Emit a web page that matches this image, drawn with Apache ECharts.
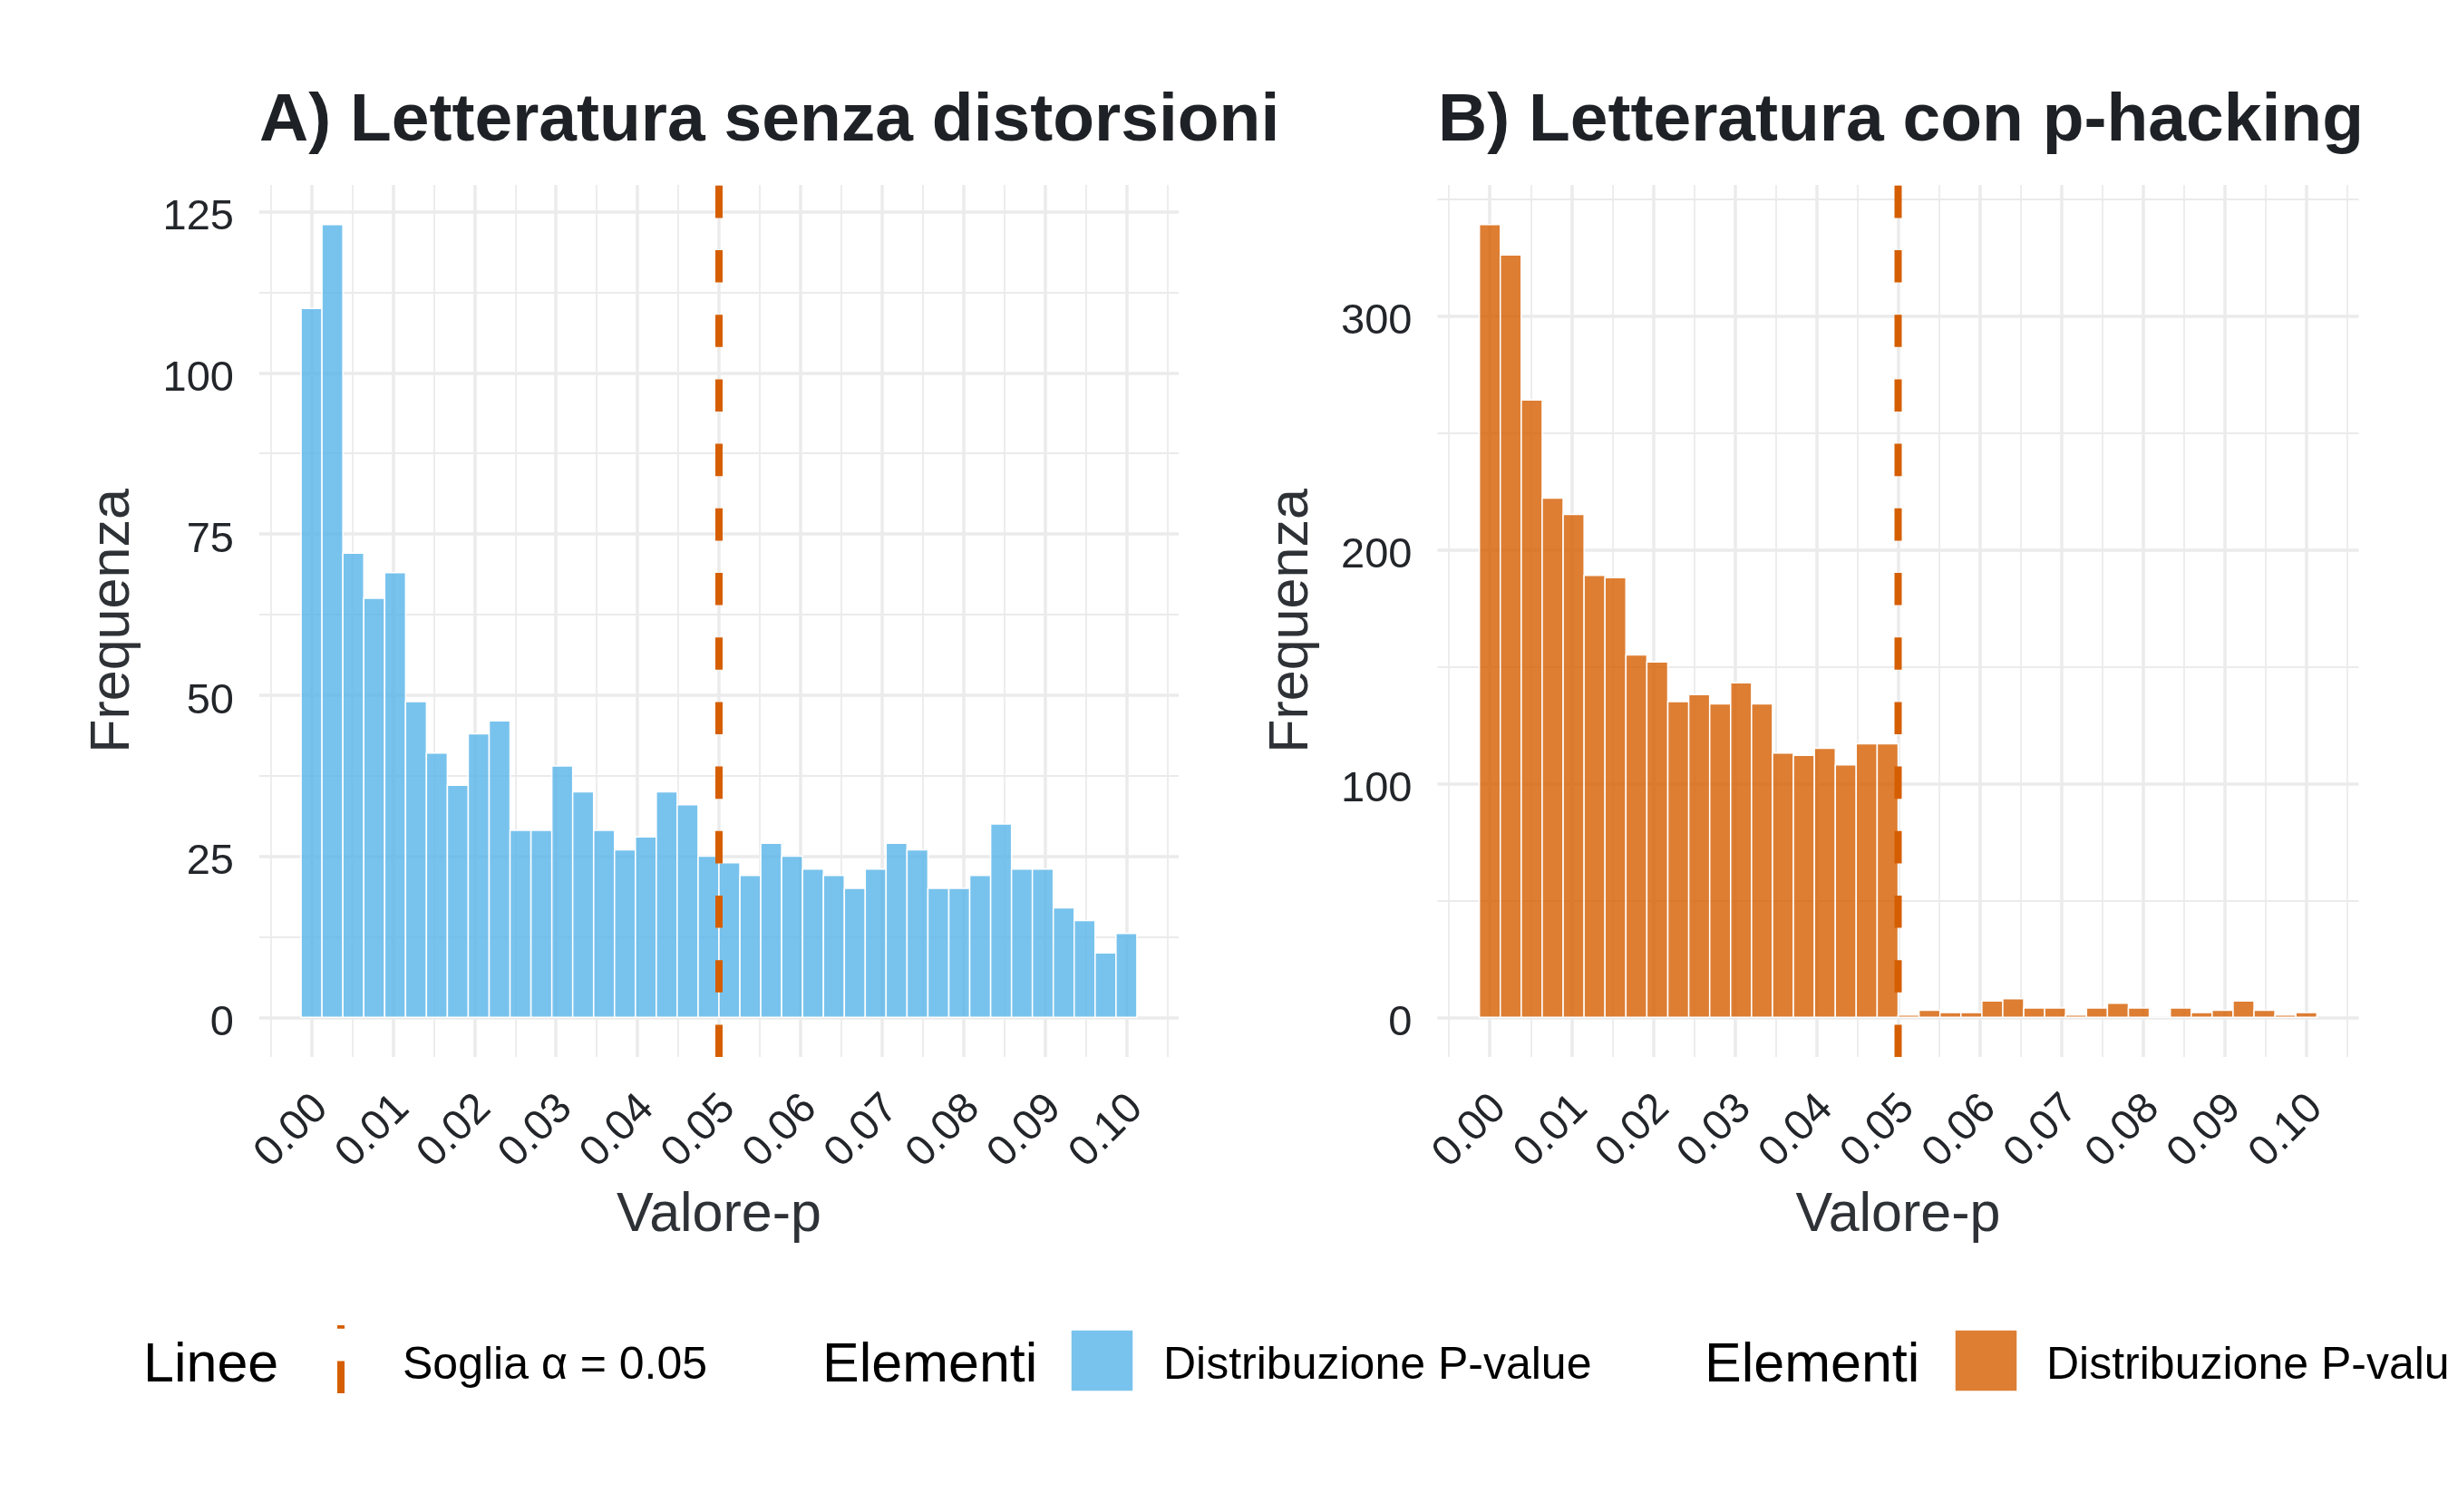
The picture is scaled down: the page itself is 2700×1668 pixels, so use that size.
<!DOCTYPE html>
<html><head><meta charset="utf-8">
<script src="https://cdn.jsdelivr.net/npm/echarts@6/dist/echarts.min.js"></script>
<style>html,body{margin:0;padding:0;background:#fff}#c{width:2700px;height:1668px}</style>
</head><body><div id="c"></div>
<script>
// ---- data ----
const binCenters = [0.00000,0.00256,0.00513,0.00769,0.01026,0.01282,0.01538,0.01795,0.02051,0.02308,
  0.02564,0.02821,0.03077,0.03333,0.03590,0.03846,0.04103,0.04359,0.04615,0.04872,
  0.05128,0.05385,0.05641,0.05897,0.06154,0.06410,0.06667,0.06923,0.07179,0.07436,
  0.07692,0.07949,0.08205,0.08462,0.08718,0.08974,0.09231,0.09487,0.09744,0.10000];
const binWidth = 0.1 / 39;
const countsA = [110,123,72,65,69,49,41,36,44,46,29,29,39,35,29,26,28,35,33,25,
  24,22,27,25,23,22,20,23,27,26,20,20,22,30,23,23,17,15,10,13];
const countsB = [339,326,264,222,215,189,188,155,152,135,138,134,143,134,113,112,115,108,117,117,
  1,3,2,2,7,8,4,4,1,4,6,4,0,4,2,3,7,3,1,2];
const alphaLine = 0.05;
const xTicks = [0,0.01,0.02,0.03,0.04,0.05,0.06,0.07,0.08,0.09,0.10];
const xMinor = [-0.005,0.005,0.015,0.025,0.035,0.045,0.055,0.065,0.075,0.085,0.095,0.105];
const yTicksA = [0,25,50,75,100,125];
const yMinorA = [12.5,37.5,62.5,87.5,112.5];
const yTicksB = [0,100,200,300];
const yMinorB = [50,150,250,350];
const panelTitles = ['A) Letteratura senza distorsioni','B) Letteratura con p-hacking'];
const xTitle = 'Valore-p';
const yTitle = 'Frequenza';
const legendLineTitle = 'Linee';
const legendLineLabel = 'Soglia α = 0.05';
const legendFillTitle = 'Elementi';
const legendFillLabel = 'Distribuzione P-value';

// ---- styles ----
const FONT = '"Liberation Sans", Arial, Helvetica, sans-serif';
const blue = 'rgba(86,180,233,0.8)';
const orange = 'rgba(213,94,0,0.8)';
const vermillion = '#D55E00';
const gridCol = '#ebebeb';
const txt = '#222529';

const xLo = binCenters[0] - binWidth / 2, xHi = binCenters[binCenters.length - 1] + binWidth / 2;
const xPad = (xHi - xLo) * 0.05;
const xMin = xLo - xPad, xMax = xHi + xPad;
const maxA = Math.max(...countsA), maxB = Math.max(...countsB);
const yA = [-maxA * 0.05, maxA * 1.05];
const yB = [-maxB * 0.05, maxB * 1.05];

const grids = [
  {left: 286, top: 204, width: 1014, height: 962},
  {left: 1585.5, top: 204, width: 1016, height: 962}
];

function majorX(gi) {
  return {
    type: 'value', gridIndex: gi, min: xMin, max: xMax,
    axisLine: {show: false}, axisTick: {show: false, customValues: xTicks},
    axisLabel: {customValues: xTicks, formatter: v => v.toFixed(2), rotate: 45, margin: 39,
      fontSize: 47, color: txt, fontFamily: FONT, verticalAlign: 'top', lineHeight: 30},
    splitLine: {show: true, lineStyle: {color: gridCol, width: 3.5}},
    name: xTitle, nameLocation: 'middle', nameGap: 145,
    nameTextStyle: {fontSize: 61, color: '#2e3236', fontFamily: FONT}
  };
}
function minorX(gi) {
  return {
    type: 'value', gridIndex: gi, min: xMin, max: xMax,
    axisLine: {show: false}, axisTick: {show: false, customValues: xMinor},
    axisLabel: {show: false},
    splitLine: {show: true, lineStyle: {color: gridCol, width: 1.8}}
  };
}
function majorY(gi, ext, ticks) {
  return {
    type: 'value', gridIndex: gi, min: ext[0], max: ext[1],
    axisLine: {show: false}, axisTick: {show: false, customValues: ticks},
    axisLabel: {customValues: ticks, margin: 28, fontSize: 47, color: txt, fontFamily: FONT,
      verticalAlign: 'top', lineHeight: 14},
    splitLine: {show: true, lineStyle: {color: gridCol, width: 3.5}},
    name: yTitle, nameLocation: 'middle', nameGap: 130,
    nameTextStyle: {fontSize: 61, color: '#2e3236', fontFamily: FONT}
  };
}
function minorY(gi, ext, ticks) {
  return {
    type: 'value', gridIndex: gi, min: ext[0], max: ext[1],
    axisLine: {show: false}, axisTick: {show: false, customValues: ticks},
    axisLabel: {show: false},
    splitLine: {show: true, lineStyle: {color: gridCol, width: 1.8}}
  };
}

function histSeries(counts, xi, yi, color) {
  return {
    type: 'custom', xAxisIndex: xi, yAxisIndex: yi, z: 3,
    data: binCenters.map((c, i) => [c, counts[i]]),
    encode: {x: 0, y: 1},
    renderItem: (params, api) => {
      const x = api.value(0), y = api.value(1);
      const p0 = api.coord([x - binWidth / 2, y]);
      const p1 = api.coord([x + binWidth / 2, 0]);
      return {type: 'rect', shape: {x: p0[0], y: p0[1], width: p1[0] - p0[0], height: p1[1] - p0[1]},
        style: {fill: color, stroke: '#ffffff', lineWidth: 1.5}};
    }
  };
}
function threshold(xi, yi, ext) {
  return {
    type: 'line', xAxisIndex: xi, yAxisIndex: yi, z: 6, silent: true,
    data: [[alphaLine, ext[0]], [alphaLine, ext[1]]],
    showSymbol: false, symbol: 'none',
    lineStyle: {color: vermillion, width: 8, type: [35.6, 35.6], cap: 'butt'}
  };
}

const legY = 1507;
const option = {
  animation: false,
  backgroundColor: '#ffffff',
  title: [
    {text: panelTitles[0], left: 286, top: 97, padding: 0,
      textStyle: {fontSize: 75, fontWeight: 'bold', color: '#1e2125', fontFamily: FONT, lineHeight: 75}},
    {text: panelTitles[1], left: 1586, top: 97, padding: 0,
      textStyle: {fontSize: 75, fontWeight: 'bold', color: '#1e2125', fontFamily: FONT, lineHeight: 75}}
  ],
  grid: grids,
  xAxis: [majorX(0), minorX(0), majorX(1), minorX(1)],
  yAxis: [majorY(0, yA, yTicksA), minorY(0, yA, yMinorA), majorY(1, yB, yTicksB), minorY(1, yB, yMinorB)],
  series: [
    histSeries(countsA, 0, 0, blue),
    threshold(0, 0, yA),
    histSeries(countsB, 2, 2, orange),
    threshold(2, 2, yB)
  ],
  graphic: [
    {type: 'text', left: 158, top: legY - 31, style: {text: legendLineTitle, fontSize: 61, fill: '#000', fontFamily: FONT, lineHeight: 62}},
    {type: 'line', shape: {x1: 376, y1: 1537, x2: 376, y2: 1462}, style: {stroke: vermillion, lineWidth: 8, lineDash: [35.6, 35.6], lineCap: 'butt'}},
    {type: 'text', left: 444, top: legY - 25, style: {text: legendLineLabel, fontSize: 50, fill: '#000', fontFamily: FONT, lineHeight: 50}},
    {type: 'text', left: 907, top: legY - 31, style: {text: legendFillTitle, fontSize: 61, fill: '#000', fontFamily: FONT, lineHeight: 62}},
    {type: 'rect', shape: {x: 1181, y: 1467, width: 69, height: 68}, style: {fill: blue, stroke: '#fff', lineWidth: 1.5}},
    {type: 'text', left: 1283, top: legY - 25, style: {text: legendFillLabel, fontSize: 50, fill: '#000', fontFamily: FONT, lineHeight: 50}},
    {type: 'text', left: 1880, top: legY - 31, style: {text: legendFillTitle, fontSize: 61, fill: '#000', fontFamily: FONT, lineHeight: 62}},
    {type: 'rect', shape: {x: 2156, y: 1467, width: 69, height: 68}, style: {fill: orange, stroke: '#fff', lineWidth: 1.5}},
    {type: 'text', x: 2257, y: legY - 25, style: {text: legendFillLabel, fontSize: 50, fill: '#000', fontFamily: FONT, lineHeight: 50}}
  ]
};
const chart = echarts.init(document.getElementById('c'), null, {renderer: 'canvas'});
chart.setOption(option);
</script></body></html>
